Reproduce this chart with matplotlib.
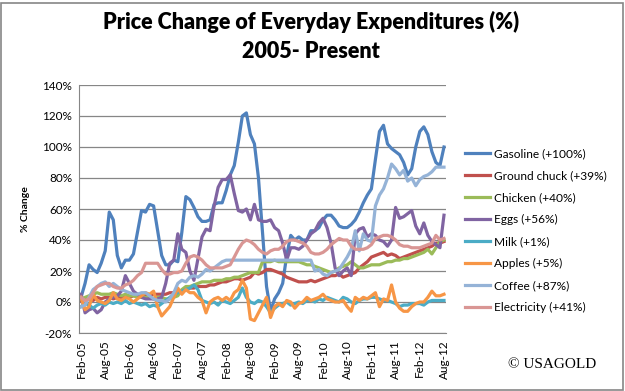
import matplotlib
matplotlib.use('Agg')
import matplotlib.pyplot as plt
from matplotlib.patches import Rectangle
import numpy as np

# monthly, Feb-05 .. Aug-12 (91 points), % change since Feb-05
months = ['Jan', 'Feb', 'Mar', 'Apr', 'May', 'Jun', 'Jul', 'Aug', 'Sep', 'Oct', 'Nov', 'Dec']
labels = []
for k in range(91):
    m = 1 + k
    labels.append(months[m % 12] + '-' + '%02d' % (5 + m // 12))

gasoline = [3, 12, 24, 21, 19, 25, 33, 58, 53, 30, 22, 27, 27, 31, 45, 59, 58, 63, 62, 46,
            30, 24, 24, 27, 26, 45, 68, 66, 61, 55, 52, 52, 53, 63, 64, 64, 72, 82, 88, 103,
            120, 122, 108, 102, 80, 45, 10, -6, 2, 6, 12, 30, 43, 40, 42, 40, 40, 46, 46, 48,
            53, 56, 56, 53, 49, 48, 48, 50, 53, 58, 64, 69, 73, 92, 110, 114, 102, 99, 97, 95,
            90, 82, 86, 100, 110, 113, 108, 97, 90, 88, 100]
ground_chuck = [1, 2, 2, 1, 3, 2, 3, 3, 2, 3, 3, 4, 3, 4, 4, 4, 5, 4, 5, 5,
                5, 5, 6, 6, 7, 7, 8, 9, 9, 10, 10, 10, 11, 11, 12, 13, 13, 14, 15, 15,
                14, 15, 16, 19, 18, 19, 21, 21, 20, 19, 18, 16, 15, 14, 13, 13, 13, 14, 13, 14,
                15, 16, 17, 17, 18, 16, 17, 18, 19, 22, 24, 26, 29, 30, 31, 32, 30, 31, 30, 28,
                29, 30, 31, 32, 33, 34, 35, 36, 38, 38, 39]
chicken = [2, 3, 4, 5, 6, 5, 5, 5, 6, 5, 4, 5, 4, 4, 3, 3, 3, 3, 2, 3,
           3, 2, 2, 3, 4, 8, 10, 10, 11, 12, 13, 13, 13, 14, 14, 14, 15, 15, 16, 16,
           17, 18, 19, 19, 19, 26, 26, 26, 27, 26, 26, 26, 26, 26, 26, 25, 24, 24, 23, 22,
           21, 20, 19, 20, 22, 23, 24, 26, 24, 22, 22, 23, 24, 24, 24, 25, 26, 26, 27, 27,
           28, 28, 29, 30, 31, 32, 34, 31, 35, 39, 40]
eggs = [5, -7, -5, -4, -7, -5, 0, 2, 3, 4, 7, 17, 12, 7, 5, 3, 2, 2, 2, 2,
        3, 12, 25, 27, 44, 34, 32, 20, 14, 28, 42, 47, 46, 62, 74, 79, 79, 82, 70, 59,
        58, 60, 53, 63, 53, 52, 52, 53, 48, 46, 38, 27, 35, 35, 34, 36, 40, 44, 46, 51,
        54, 48, 38, 22, 17, 20, 22, 17, 44, 47, 48, 42, 44, 43, 40, 39, 36, 40, 61, 54,
        55, 57, 59, 49, 44, 51, 43, 39, 37, 35, 56]
milk = [-3, -1, -2, -4, -2, -1, -2, 0, -1, 0, -1, 1, -1, 0, -1, -2, -1, -3, -2, -3,
        -1, 1, 3, 5, 6, 7, 8, 9, 11, 8, 1, 0, -1, 0, -2, 1, 0, -1, 1, 3,
        9, 3, 0, -1, 1, 0, -3, -7, -4, -2, -1, 0, -2, -1, 0, -1, 1, 1, 0, 2,
        1, 3, 2, 1, 0, 3, 2, 0, -1, 1, 2, 2, 3, 3, 2, 1, 1, 0, -1, -3,
        -2, -2, -1, -1, -1, -2, 0, 1, 1, 1, 1]
apples = [3, -5, -3, 5, 1, 0, -1, 1, 6, 2, 1, 3, 2, 0, 2, 4, 6, 5, 7, -3,
          -9, -6, -3, 3, 9, 5, 8, 6, 6, 3, 1, -7, 0, 2, 3, 1, 3, 1, 6, 8,
          14, 9, -11, -12, -7, -2, 3, -10, -3, -1, -3, 1, 0, -4, -1, 0, 3, 1, 2, 3,
          5, 2, 1, 0, 0, 1, -3, -6, 3, 1, 3, 2, 4, 6, -3, 2, 1, 11, 0, -4,
          -6, -6, -3, -1, 0, 0, 3, 7, 4, 4, 5]
coffee = [-3, -2, 3, 8, 10, 12, 13, 10, 12, 10, 8, 7, 6, 5, 5, 6, 6, 4, 2, 1,
          1, 0, 2, 6, 12, 14, 13, 16, 17, 16, 18, 21, 20, 22, 24, 26, 27, 27, 27, 27,
          27, 27, 27, 27, 27, 27, 27, 27, 27, 27, 27, 27, 27, 27, 27, 27, 27, 27, 20, 21,
          18, 17, 19, 20, 21, 25, 29, 34, 46, 33, 44, 40, 39, 62, 69, 73, 80, 89, 86, 82,
          85, 78, 80, 75, 79, 81, 82, 84, 87, 87, 87]
electricity = [3, 1, 2, 6, 10, 11, 12, 12, 10, 9, 9, 11, 12, 14, 17, 19, 25, 25, 25, 25,
               21, 18, 18, 19, 19, 20, 25, 29, 30, 29, 27, 24, 22, 22, 22, 22, 23, 24, 29, 34,
               38, 40, 39, 37, 34, 32, 31, 33, 34, 34, 36, 39, 40, 40, 39, 38, 36, 32, 31, 31,
               32, 34, 37, 39, 41, 40, 40, 36, 34, 34, 34, 35, 37, 41, 42, 43, 43, 42, 40, 37,
               36, 36, 35, 35, 35, 36, 37, 38, 43, 40, 41]

names = ['Gasoline (+100%)', 'Ground chuck (+39%)', 'Chicken (+40%)', 'Eggs (+56%)',
         'Milk (+1%)', 'Apples (+5%)', 'Coffee (+87%)', 'Electricity (+41%)']
colors = ['#4F81BD', '#C0504D', '#9BBB59', '#8064A2', '#4BACC6', '#F79646', '#95B3D7', '#D99694']
series = [gasoline, ground_chuck, chicken, eggs, milk, apples, coffee, electricity]

plt.rcParams['font.family'] = ['Lato', 'DejaVu Sans']

fig = plt.figure(figsize=(6.25, 3.91), dpi=100)
ax = fig.add_axes([79 / 625, 1 - 333 / 391, (446 - 79) / 625, (333 - 85) / 391])

x = np.arange(len(labels))
for s, c, n in zip(series, colors, names):
    ax.plot(x, np.array(s) / 100.0, color=c, lw=2.3, label=n, solid_joinstyle='round')

ax.set_xlim(-0.5, len(labels) - 0.5)
ax.set_ylim(-0.2, 1.4)
ax.set_yticks(np.arange(-0.2, 1.41, 0.2))
ax.set_yticklabels(['%d%%' % round(v * 100) for v in np.arange(-0.2, 1.41, 0.2)], fontsize=8.5)
ax.set_xticks(x[::6])
ax.set_xticklabels(labels[::6], rotation=90, fontsize=8.5)
ax.yaxis.grid(True, color='#868686', lw=0.9)
ax.set_axisbelow(True)
for sp in ['top', 'right']:
    ax.spines[sp].set_visible(False)
for sp in ['left', 'bottom']:
    ax.spines[sp].set_color('#868686')
ax.tick_params(axis='both', length=0, pad=5, colors='black')
ax.set_ylabel('% Change', fontsize=7.5, fontweight='bold', labelpad=9)

fig.text(0.498, 1 - 22 / 391, 'Price Change of Everyday Expenditures (%)', ha='center', va='center',
         fontsize=15.5, fontweight='heavy')
fig.text(0.498, 1 - 51 / 391, '2005- Present', ha='center', va='center', fontsize=15.5, fontweight='heavy')

ax.legend(loc='center left', bbox_to_anchor=(465 / 625, 1 - 230.5 / 391), bbox_transform=fig.transFigure,
          frameon=False, fontsize=8.6, handlelength=2.1, handletextpad=0.35, labelspacing=0.92,
          borderpad=0, borderaxespad=0)

fig.text(508 / 625, 1 - 365 / 391, '\u00a9 USAGOLD', ha='left', va='center', fontsize=11,
         family='Liberation Serif')

fig.patches.append(Rectangle((1.5 / 625, 1.5 / 391), 621 / 625, 387 / 391, transform=fig.transFigure,
                             fill=False, edgecolor='#868686', lw=1.2))

fig.savefig('out.png', dpi=100, facecolor='white')
